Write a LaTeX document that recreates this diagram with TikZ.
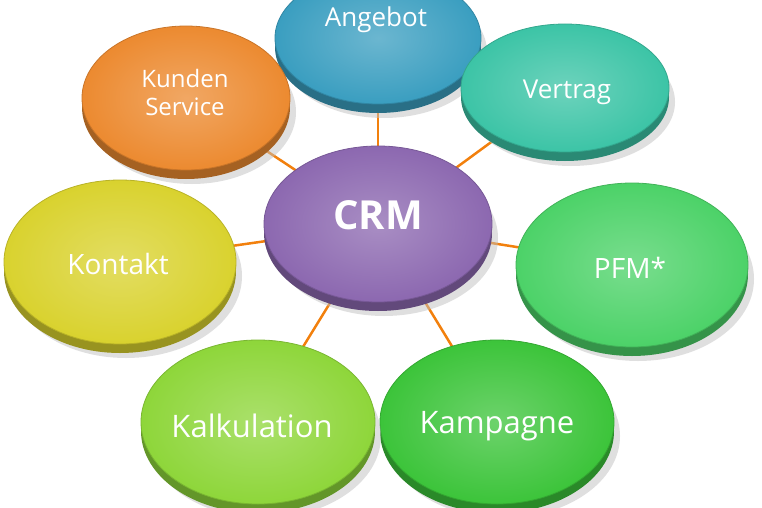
\documentclass[tikz,border=0pt]{standalone}
\usepackage{fontspec}
\setmainfont{Open Sans}
\begin{document}
\begin{tikzpicture}[x=1pt,y=-1pt,
  lbl/.style={text=white,font=\fontsize{28}{32}\selectfont,align=center},
  conn/.style={draw=orange!80!brown,line width=2.5pt}]
\useasboundingbox (0,0) rectangle (762,508);
\clip (0,0) rectangle (762,508);
\newcommand\disc[6]{% name, x, y, rx, ry, color
  \fill[black!25,opacity=0.5] (#2+6,#3+14) ellipse [x radius=#4,y radius=#5];
  \fill[#6!70!black] (#2,#3+9) ellipse [x radius=#4,y radius=#5];
  \shade[inner color=#6!75!white,outer color=#6] (#2,#3) ellipse [x radius=#4,y radius=#5];
  \draw[#6!85!black,line width=0.8pt] (#2,#3) ellipse [x radius=#4,y radius=#5];
  \coordinate (#1) at (#2,#3);}
\definecolor{cA}{HTML}{3A9EC0}
\definecolor{cV}{HTML}{3CC4A6}
\definecolor{cP}{HTML}{4CD268}
\definecolor{cKa}{HTML}{3CC43A}
\definecolor{cKl}{HTML}{8ED63A}
\definecolor{cKo}{HTML}{D9D22E}
\definecolor{cKS}{HTML}{EC8A30}
\definecolor{cC}{HTML}{8C68B0}
% connectors
\coordinate (c) at (378,225);
\foreach \p in {(378,40),(565,88),(630,265),(497,420),(258,420),(120,262),(187,98)}
  \draw[conn] (c) -- \p;
\disc{ang}{378}{38}{103}{66}{cA}
\disc{ver}{565}{88}{104}{64}{cV}
\disc{pfm}{632}{265}{116}{82}{cP}
\disc{kam}{497}{422}{117}{82}{cKa}
\disc{kal}{258}{422}{117}{82}{cKl}
\disc{kon}{120}{262}{116}{82}{cKo}
\disc{ks}{186}{98}{104}{72}{cKS}
\disc{crm}{378}{224}{114}{78}{cC}
\node[lbl,font=\fontsize{26}{30}\selectfont] at (376,20) {Angebot};
\node[lbl,font=\fontsize{26}{30}\selectfont] at (567,92) {Vertrag};
\node[lbl] at (630,268) {PFM*};
\node[lbl,font=\fontsize{31}{36}\selectfont] at (497,426) {Kampagne};
\node[lbl,font=\fontsize{31}{36}\selectfont] at (252,426) {Kalkulation};
\node[lbl] at (118,264) {Kontakt};
\node[lbl,font=\fontsize{24}{28}\selectfont] at (185,92) {Kunden\\Service};
\node[lbl,font=\fontsize{40}{44}\selectfont\bfseries] at (378,215) {CRM};
\end{tikzpicture}
\end{document}
